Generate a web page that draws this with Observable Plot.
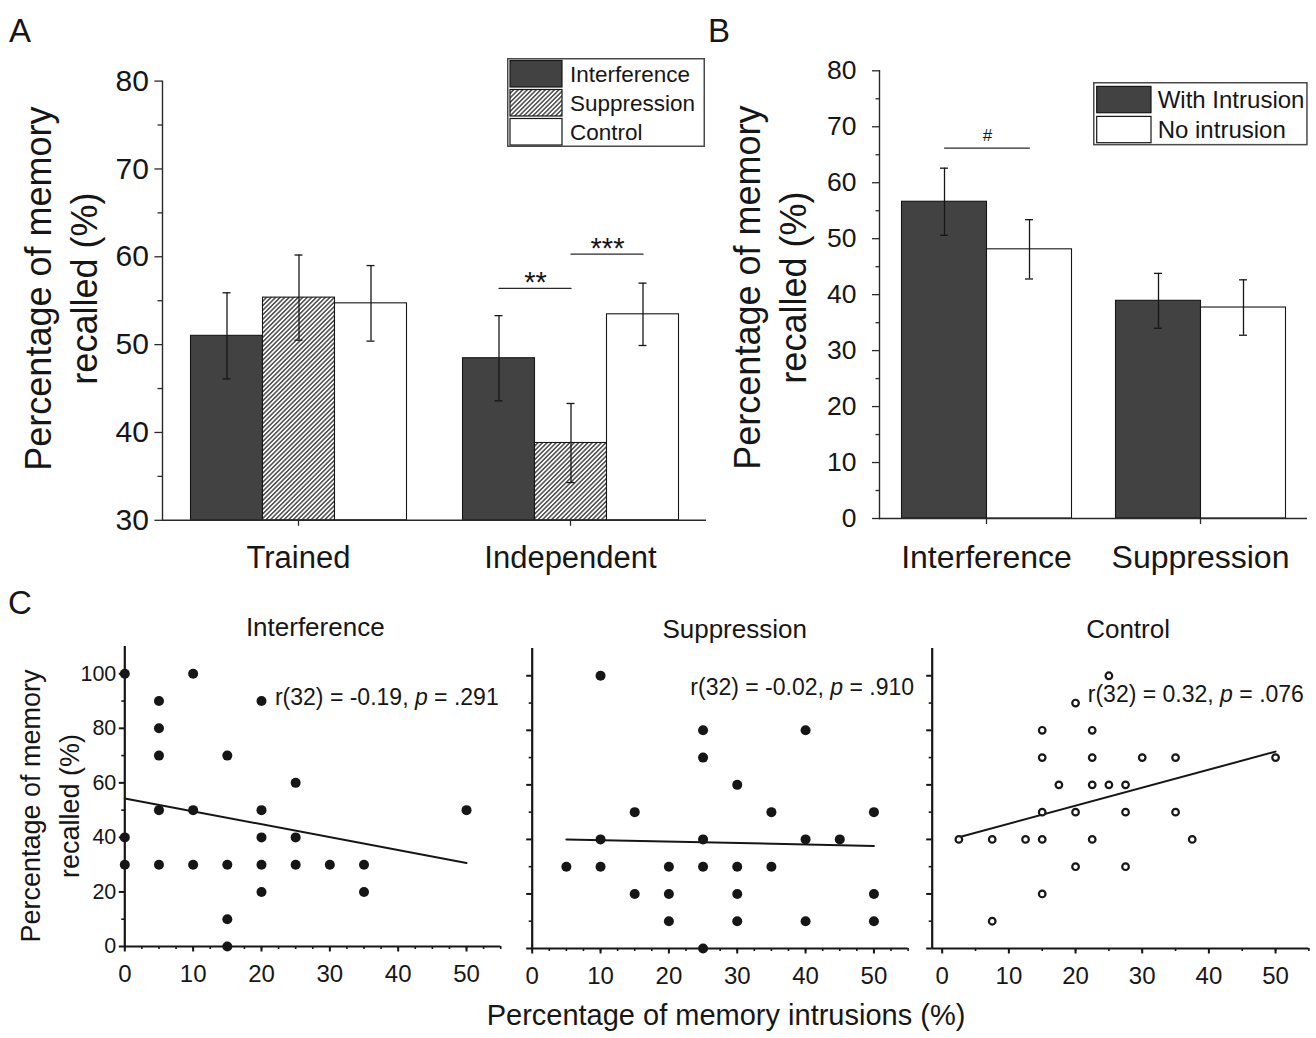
<!DOCTYPE html>
<html>
<head>
<meta charset="utf-8">
<script src="https://cdn.jsdelivr.net/npm/d3@7"></script>
<script src="https://cdn.jsdelivr.net/npm/@observablehq/plot@0.6"></script>
<style>
html,body{margin:0;padding:0;background:#fff;}
#fig{position:relative;width:1316px;height:1038px;overflow:hidden;background:#fff;font-family:"Liberation Sans",Arial,Helvetica,sans-serif;color:#111;}
#fig > div{position:absolute;}
#fig svg{display:block;}
</style>
</head>
<body>
<svg width="0" height="0" style="position:absolute">
  <defs>
    <pattern id="hatch" patternUnits="userSpaceOnUse" width="3.2" height="3.2" patternTransform="rotate(45)">
      <rect width="3.2" height="3.2" fill="#ffffff"/>
      <line x1="1.6" y1="0" x2="1.6" y2="3.2" stroke="#262626" stroke-width="1.25"/>
    </pattern>
  </defs>
</svg>
<div id="fig"></div>
<script>
// ================= DATA =================
// ---- Panel A ----
const conditionsA = ["Trained", "Independent"];
const groupsA = ["Interference", "Suppression", "Control"];
const meanInterferenceA = [51.0, 48.45];
const meanSuppressionA = [55.35, 38.8];
const meanControlA = [54.7, 53.45];
const errInterferenceA = [4.9, 4.85];
const errSuppressionA = [4.85, 4.5];
const errControlA = [4.3, 3.55];
const yTicksA = [30, 40, 50, 60, 70, 80];
const yMinorA = [35, 45, 55, 65, 75];
const sigCondA = ["Independent", "Independent"];
const sigFromA = ["Interference", "Suppression"];
const sigToA = ["Suppression", "Control"];
const sigYA = [56.4, 60.3];
const sigTextA = ["**", "***"];

// ---- Panel B ----
const conditionsB = ["Interference", "Suppression"];
const groupsB = ["With Intrusion", "No intrusion"];
const meanWithB = [56.6, 38.9];
const meanNoB = [48.1, 37.7];
const errWithB = [6.0, 4.9];
const errNoB = [5.3, 4.95];
const yTicksB = [0, 10, 20, 30, 40, 50, 60, 70, 80];
const yMinorB = [5, 15, 25, 35, 45, 55, 65, 75];
const sigCondB = ["Interference"];
const sigFromB = ["With Intrusion"];
const sigToB = ["No intrusion"];
const sigYB = [66.2];
const sigTextB = ["#"];

// ---- Panel C ----
const panelsC = ["Interference", "Suppression", "Control"];
const intrusionsInterference = [0,0,0, 5,5,5,5,5, 10,10,10, 15,15,15,15, 20,20,20,20,20, 25,25,25, 30, 35,35, 50];
const recalledInterference   = [100,40,30, 90,80,70,50,30, 100,50,30, 70,30,10,0, 90,50,40,30,20, 60,40,30, 30, 30,20, 50];
const intrusionsSuppression = [5, 10,10,10, 15,15, 20,20,20, 25,25,25,25,25, 30,30,30,30, 35,35, 40,40,40, 45, 50,50,50];
const recalledSuppression   = [30, 100,40,30, 50,20, 30,20,10, 80,70,40,30,0, 60,30,20,10, 50,30, 80,40,10, 40, 50,20,10];
const intrusionsControl = [2.5, 7.5,7.5, 12.5, 15,15,15,15,15, 17.5, 20,20,20, 22.5,22.5,22.5,22.5, 25,25, 27.5,27.5,27.5, 30, 35,35, 37.5, 50];
const recalledControl   = [40, 40,10, 40, 80,70,50,40,20, 60, 90,50,30, 80,70,60,40, 100,60, 60,50,30, 70, 70,50, 40, 70];
const fitXInterference = [0, 50],  fitYInterference = [54.3, 30.6];
const fitXSuppression = [5, 50],   fitYSuppression = [40.0, 37.6];
const fitXControl = [2.5, 50],     fitYControl = [40.8, 72.2];
const statPrefixC = ["r(32) = -0.19, ", "r(32) = -0.02, ", "r(32) = 0.32, "];
const statSuffixC = [" = .291", " = .910", " = .076"];
const xTicksC = [0, 10, 20, 30, 40, 50];
const yTicksC = [0, 20, 40, 60, 80, 100];
const yMinorC = [10, 30, 50, 70, 90];

// ================= HELPERS =================
const FONT = '"Liberation Sans", Arial, Helvetica, sans-serif';
const INK = "#161616";
const fig = document.getElementById("fig");
function place(node, left, top) {
  const d = document.createElement("div");
  d.style.left = left + "px";
  d.style.top = top + "px";
  d.appendChild(node);
  fig.appendChild(d);
}
const blank = () => "";

// ================= PANEL A =================
const fillsA = ["#424242", "url(#hatch)", "#ffffff"];
const meansA = [meanInterferenceA, meanSuppressionA, meanControlA];
const errsA = [errInterferenceA, errSuppressionA, errControlA];
const rowsA = conditionsA.flatMap((c, i) => groupsA.map((g, j) => ({
  condition: c, group: g, mean: meansA[j][i],
  lo: meansA[j][i] - errsA[j][i], hi: meansA[j][i] + errsA[j][i], fill: fillsA[j]
})));
const sigLinesA = sigYA.flatMap((y, k) => [
  {condition: sigCondA[k], group: sigFromA[k], y, k},
  {condition: sigCondA[k], group: sigToA[k], y, k}
]);
const sigTextRowsA = sigYA.map((y, k) => ({condition: sigCondA[k], group: sigFromA[k], y, label: sigTextA[k]}));

const plotA = Plot.plot({
  width: 720, height: 590,
  marginLeft: 161.5, marginRight: 13.5, marginTop: 80.6, marginBottom: 70.2,
  style: {fontFamily: FONT, color: INK, background: "transparent", overflow: "visible"},
  fx: {domain: conditionsA, padding: 0, label: null},
  x: {domain: groupsA, paddingInner: 0, paddingOuter: 0.369, axis: null},
  y: {domain: [30, 80], label: null},
  color: {type: "identity"},
  marks: [
    Plot.barY(rowsA, {fx: "condition", x: "group", y1: 30, y2: "mean", fill: "fill", stroke: INK, strokeWidth: 1.1}),
    Plot.ruleX(rowsA, {fx: "condition", x: "group", y1: "lo", y2: "hi", stroke: INK, strokeWidth: 1.3}),
    Plot.tickY(rowsA, {fx: "condition", x: "group", y: "lo", insetLeft: 32, insetRight: 32, stroke: INK, strokeWidth: 1.3}),
    Plot.tickY(rowsA, {fx: "condition", x: "group", y: "hi", insetLeft: 32, insetRight: 32, stroke: INK, strokeWidth: 1.3}),
    Plot.ruleY([30], {stroke: "#2a2a2a", strokeWidth: 1.4}),
    Plot.frame({anchor: "left", facetAnchor: "left", stroke: "#2a2a2a", strokeWidth: 1.4}),
    Plot.axisY({ticks: yTicksA, tickSize: 7.6, tickPadding: 6, fontSize: 30, label: null, stroke: "#2a2a2a", strokeWidth: 1.3}),
    Plot.axisY({ticks: yMinorA, tickSize: 4.5, tickFormat: blank, label: null, stroke: "#2a2a2a", strokeWidth: 1.3}),
    Plot.axisFx({anchor: "bottom", tickSize: 6, tickPadding: 20, fontSize: 31, label: null, stroke: "#2a2a2a", strokeWidth: 1.3}),
    Plot.line(sigLinesA, {fx: "condition", x: "group", y: "y", z: "k", stroke: "#2a2a2a", strokeWidth: 1.3}),
    Plot.text(sigTextRowsA, {fx: "condition", x: "group", y: "y", text: "label", dx: 36.5, dy: 3.5, lineAnchor: "bottom", fontSize: 29, fill: INK})
  ]
});
place(plotA, 0, 0);

// ================= PANEL B =================
const fillsB = ["#424242", "#ffffff"];
const meansB = [meanWithB, meanNoB];
const errsB = [errWithB, errNoB];
const rowsB = conditionsB.flatMap((c, i) => groupsB.map((g, j) => ({
  condition: c, group: g, mean: meansB[j][i],
  lo: meansB[j][i] - errsB[j][i], hi: meansB[j][i] + errsB[j][i], fill: fillsB[j]
})));
const sigLinesB = sigYB.flatMap((y, k) => [
  {condition: sigCondB[k], group: sigFromB[k], y, k},
  {condition: sigCondB[k], group: sigToB[k], y, k}
]);
const sigTextRowsB = sigYB.map((y, k) => ({condition: sigCondB[k], group: sigFromB[k], y, label: sigTextB[k]}));

const plotB = Plot.plot({
  width: 616, height: 590,
  marginLeft: 178.5, marginRight: 9, marginTop: 70.3, marginBottom: 72,
  style: {fontFamily: FONT, color: INK, background: "transparent", overflow: "visible"},
  fx: {domain: conditionsB, padding: 0, label: null},
  x: {domain: groupsB, paddingInner: 0, paddingOuter: 0.253, axis: null},
  y: {domain: [0, 80], label: null},
  color: {type: "identity"},
  marks: [
    Plot.barY(rowsB, {fx: "condition", x: "group", y1: 0, y2: "mean", fill: "fill", stroke: INK, strokeWidth: 1.1}),
    Plot.ruleX(rowsB, {fx: "condition", x: "group", y1: "lo", y2: "hi", stroke: INK, strokeWidth: 1.3}),
    Plot.tickY(rowsB, {fx: "condition", x: "group", y: "lo", insetLeft: 38.5, insetRight: 38.5, stroke: INK, strokeWidth: 1.3}),
    Plot.tickY(rowsB, {fx: "condition", x: "group", y: "hi", insetLeft: 38.5, insetRight: 38.5, stroke: INK, strokeWidth: 1.3}),
    Plot.ruleY([0], {stroke: "#2a2a2a", strokeWidth: 1.4}),
    Plot.frame({anchor: "left", facetAnchor: "left", stroke: "#2a2a2a", strokeWidth: 1.4}),
    Plot.axisY({ticks: yTicksB, tickSize: 7, tickPadding: 16, fontSize: 26.5, label: null, stroke: "#2a2a2a", strokeWidth: 1.3}),
    Plot.axisY({ticks: yMinorB, tickSize: 3.5, tickFormat: blank, label: null, stroke: "#2a2a2a", strokeWidth: 1.3}),
    Plot.axisFx({anchor: "bottom", tickSize: 6, tickPadding: 21, fontSize: 32, label: null, stroke: "#2a2a2a", strokeWidth: 1.3}),
    Plot.line(sigLinesB, {fx: "condition", x: "group", y: "y", z: "k", stroke: "#2a2a2a", strokeWidth: 1.3}),
    Plot.text(sigTextRowsB, {fx: "condition", x: "group", y: "y", text: "label", dx: 43, dy: -6.6, lineAnchor: "bottom", fontSize: 17, fill: INK})
  ]
});
place(plotB, 700, 0);

// ================= LEGENDS =================
function legend(items, fills, {left, top, width, height, swLeft, swWidth, rowTops, rowH, textLeft, fontSize, baseOff}) {
  const svg = d3.create("svg").attr("width", width).attr("height", height)
    .style("font-family", FONT).style("overflow", "visible");
  svg.append("rect").attr("x", 0.75).attr("y", 0.75).attr("width", width - 1.5).attr("height", height - 1.5)
    .attr("fill", "#fff").attr("stroke", "#4a4a4a").attr("stroke-width", 1.5);
  items.forEach((name, i) => {
    svg.append("rect").attr("x", swLeft).attr("y", rowTops[i]).attr("width", swWidth).attr("height", rowH)
      .attr("fill", fills[i]).attr("stroke", INK).attr("stroke-width", 1.2);
    svg.append("text").attr("x", textLeft).attr("y", rowTops[i] + rowH / 2 + baseOff)
      .attr("font-size", fontSize).attr("fill", INK).text(name);
  });
  place(svg.node(), left, top);
}
legend(groupsA, fillsA, {left: 507, top: 57.7, width: 198, height: 89, swLeft: 3, swWidth: 52,
  rowTops: [2.5, 31.5, 60.5], rowH: 26.5, textLeft: 63, fontSize: 22.5, baseOff: 8});
legend(groupsB, fillsB, {left: 1093, top: 82.3, width: 214.7, height: 63.4, swLeft: 3.7, swWidth: 54.3,
  rowTops: [4.4, 34.4], rowH: 26.3, textLeft: 64.7, fontSize: 24, baseOff: 8.8});

// ================= PANEL C =================
const seriesC = [
  {xs: intrusionsInterference, ys: recalledInterference, fx: fitXInterference, fy: fitYInterference},
  {xs: intrusionsSuppression, ys: recalledSuppression, fx: fitXSuppression, fy: fitYSuppression},
  {xs: intrusionsControl, ys: recalledControl, fx: fitXControl, fy: fitYControl}
];
const layoutC = [
  {left: 0,   top: 600,   width: 510, ml: 124.3, mr: 9.8,  x0: 0,    minor: d3.range(0, 55.1, 2.5), showY: true,  open: false, titleDx: 2.5,  annoDx: -2, annoDy: 51},
  {left: 500, top: 602.3, width: 420, ml: 31.7,  mr: 12.4, x0: 0,    minor: d3.range(0, 55.1, 2.5), showY: false, open: false, titleDx: 14.5, annoDx: 6,  annoDy: 39},
  {left: 910, top: 602.3, width: 406, ml: 21.7,  mr: 7.6,  x0: -1.5, minor: d3.range(0, 55.1, 5),   showY: false, open: true,  titleDx: 7.5,  annoDx: -5, annoDy: 46}
];
panelsC.forEach((title, i) => {
  const s = seriesC[i], L = layoutC[i];
  const pts = s.xs.map((x, k) => ({x, y: s.ys[k]}));
  const fit = s.fx.map((x, k) => ({x, y: s.fy[k]}));
  const full = statPrefixC[i] + "p" + statSuffixC[i];
  const p = Plot.plot({
    width: L.width, height: 400,
    marginLeft: L.ml, marginRight: L.mr, marginTop: 46, marginBottom: 54,
    style: {fontFamily: FONT, color: INK, background: "transparent", overflow: "visible"},
    x: {domain: [L.x0, 55], label: null},
    y: {domain: [0, 110], label: null},
    marks: [
      Plot.axisX({ticks: L.minor, tickSize: 3, tickFormat: blank, label: null, stroke: INK, strokeWidth: 1.6}),
      Plot.axisX({ticks: xTicksC, tickSize: 5.5, tickPadding: 13, fontSize: 24, label: null, stroke: INK, strokeWidth: 2}),
      Plot.axisY({ticks: yMinorC, tickSize: 3, tickFormat: blank, label: null, stroke: INK, strokeWidth: 1.6}),
      Plot.axisY({ticks: yTicksC, tickSize: 5.5, tickPadding: 3, fontSize: 21.5, label: null,
        tickFormat: L.showY ? (d => String(d)) : blank, stroke: INK, strokeWidth: 2}),
      Plot.ruleY([0], {stroke: INK, strokeWidth: 2.2}),
      Plot.ruleX([L.x0], {y1: 0, y2: 110, stroke: INK, strokeWidth: 2.2}),
      Plot.line(fit, {x: "x", y: "y", stroke: INK, strokeWidth: 2}),
      L.open
        ? Plot.dot(pts, {x: "x", y: "y", r: 3.3, stroke: INK, strokeWidth: 2.2, fill: "#fff"})
        : Plot.dot(pts, {x: "x", y: "y", r: 5, fill: INK}),
      Plot.text([title], {text: d => d, frameAnchor: "top", dx: L.titleDx, dy: -19, lineAnchor: "middle", fontSize: 26, fill: INK}),
      Plot.text([full], {text: d => d, frameAnchor: "top-right", textAnchor: "end", dx: L.annoDx, dy: L.annoDy, lineAnchor: "middle", fontSize: 23, fill: INK})
    ]
  });
  d3.select(p).selectAll("text").filter(function () { return this.textContent === full; }).each(function () {
    const t = d3.select(this);
    t.text(null);
    t.append("tspan").text(statPrefixC[i]);
    t.append("tspan").attr("font-style", "italic").text("p");
    t.append("tspan").text(statSuffixC[i]);
  });
  place(p, L.left, L.top);
});

// ================= OVERLAY TEXT (panel letters, axis titles) =================
const ov = d3.create("svg").attr("width", 1316).attr("height", 1038)
  .style("font-family", FONT).style("pointer-events", "none");
function ovText(x, y, s, size, rotate) {
  const t = ov.append("text").attr("font-size", size).attr("fill", INK).text(s);
  if (rotate) t.attr("transform", `translate(${x},${y}) rotate(-90)`).attr("text-anchor", "middle");
  else t.attr("x", x).attr("y", y);
  return t;
}
ovText(9, 42, "A", 33);
ovText(708, 42, "B", 33);
ovText(8, 614, "C", 33);
ovText(50.5, 288.6, "Percentage of memory", 36, true);
ovText(97.4, 288.6, "recalled (%)", 36, true);
ovText(760, 287.6, "Percentage of memory", 36, true);
ovText(806, 287.6, "recalled (%)", 36, true);
ovText(39.8, 806, "Percentage of memory", 27, true);
ovText(79, 806, "recalled (%)", 27, true);
ovText(726, 1025, "Percentage of memory intrusions (%)", 29).attr("text-anchor", "middle");
place(ov.node(), 0, 0);
</script>
</body>
</html>
